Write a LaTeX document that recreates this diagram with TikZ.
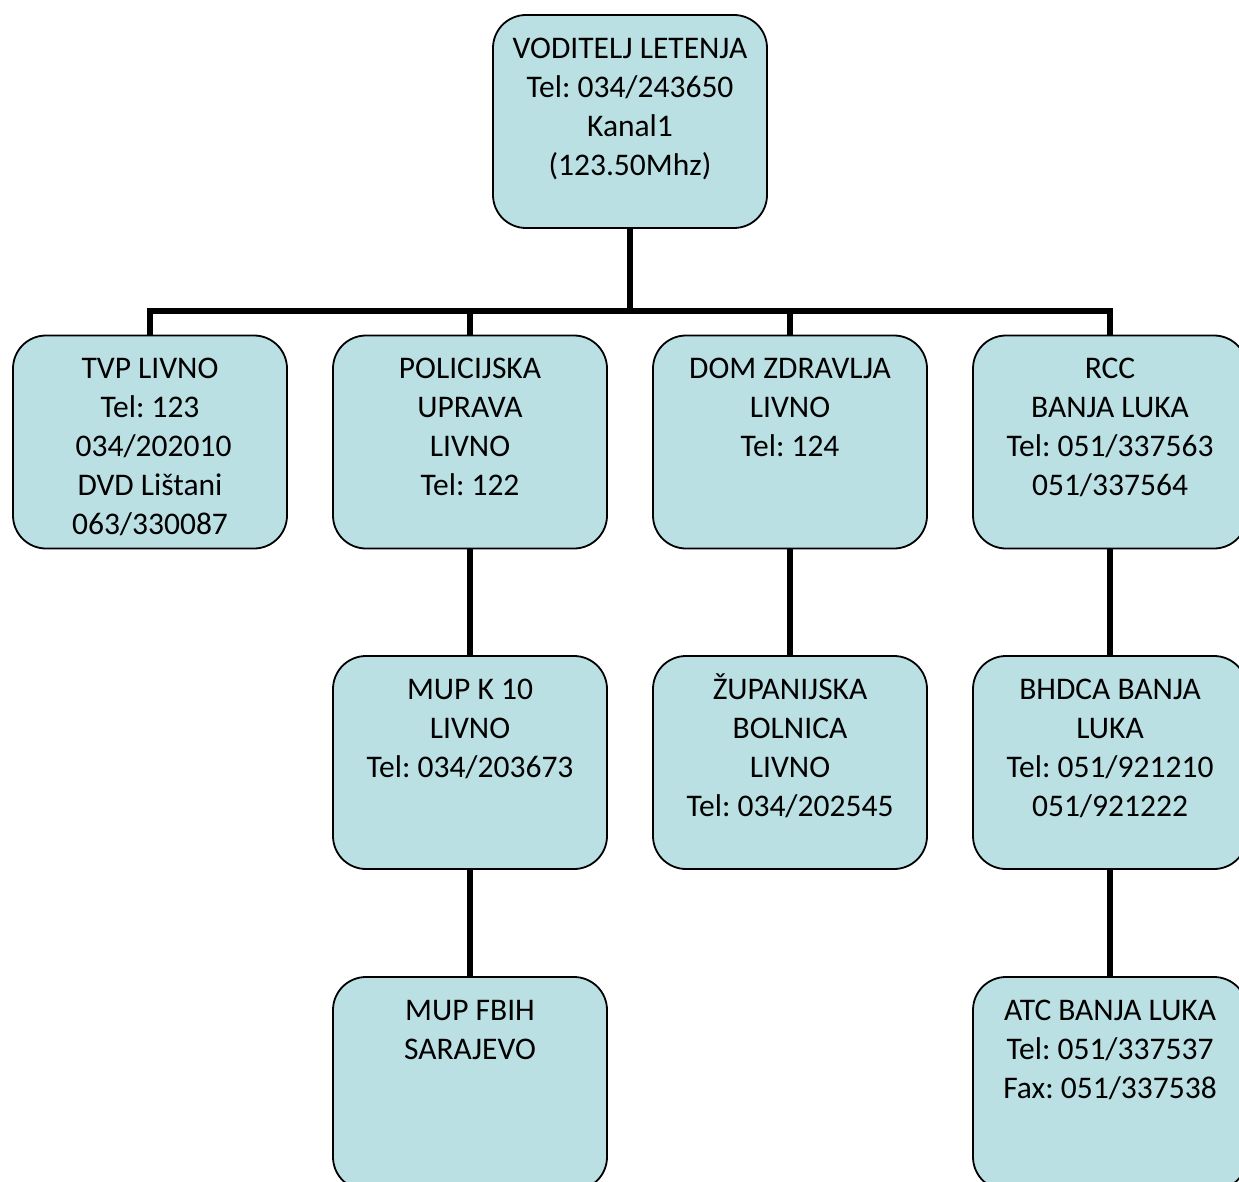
\documentclass[tikz,border=0pt]{standalone}
\usepackage{fontspec}
\setmainfont{Carlito}
\frenchspacing
\newcommand\orgfs{\fontsize{31.5}{39}\selectfont\frenchspacing}
\newcommand\fst{\rule{0pt}{28pt}}
\definecolor{boxfill}{RGB}{187,224,227}
\tikzset{
  orgbox/.style={draw=black, line width=1.8pt, fill=boxfill, rounded corners=33pt,
    minimum width=274pt, minimum height=213pt, inner sep=0pt},
  orgtext/.style={anchor=north, inner sep=0pt, align=center, font=\orgfs},
  link/.style={line width=5.5pt}
}
\begin{document}
\begin{tikzpicture}[x=1pt,y=-1pt]
\useasboundingbox (0,0) rectangle (1239,1182);
\clip (0,0) rectangle (1239,1182);
% boxes
\node[orgbox] (b0) at (630,121.5) {};
\node[orgbox] (b1) at (150,442) {};
\node[orgbox] (b2) at (470,442) {};
\node[orgbox] (b3) at (790,442) {};
\node[orgbox] (b4) at (1110,442) {};
\node[orgbox] (c2) at (470,762.5) {};
\node[orgbox] (c3) at (790,762.5) {};
\node[orgbox] (c4) at (1110,762.5) {};
\node[orgbox] (d2) at (470,1083.5) {};
\node[orgbox] (d4) at (1110,1083.5) {};
% connectors
\coordinate (bus) at (630,311);
\draw[link] (b0.south) -- (bus);
\draw[link] (b1.north) |- (bus) -| (b4.north);
\draw[link] (b2.north) -- (b2.north |- bus);
\draw[link] (b3.north) -- (b3.north |- bus);
\draw[link] (b2.south) -- (c2.north);
\draw[link] (b3.south) -- (c3.north);
\draw[link] (b4.south) -- (c4.north);
\draw[link] (c2.south) -- (d2.north);
\draw[link] (c4.south) -- (d4.north);
% texts
\node[orgtext] (t0) at ([yshift=-16pt]b0.north) {\fst VODITELJ LETENJA\\Tel: 034/243650\\Kanal1\\(123.50Mhz)};
\node[orgtext] (t1) at ([yshift=-16pt]b1.north) {\fst TVP LIVNO\\Tel: 123\\\ 034/202010\\DVD Lištani\\063/330087};
\node[orgtext] (t2) at ([yshift=-16pt]b2.north) {\fst POLICIJSKA\\UPRAVA\\LIVNO\\Tel: 122};
\node[orgtext] (t3) at ([yshift=-16pt]b3.north) {\fst DOM ZDRAVLJA\\LIVNO\\Tel: 124};
\node[orgtext] (t4) at ([yshift=-16pt]b4.north) {\fst RCC\\BANJA LUKA\\Tel: 051/337563\\051/337564};
\node[orgtext] (u2) at ([yshift=-16pt]c2.north) {\fst MUP K 10\\LIVNO\\Tel: 034/203673};
\node[orgtext] (u3) at ([yshift=-16pt]c3.north) {\fst ŽUPANIJSKA\\BOLNICA\\LIVNO\\Tel: 034/202545};
\node[orgtext] (u4) at ([yshift=-16pt]c4.north) {\fst BHDCA BANJA\\LUKA\\Tel: 051/921210\\051/921222};
\node[orgtext] (v2) at ([yshift=-16pt]d2.north) {\fst MUP FBIH\\SARAJEVO};
\node[orgtext] (v4) at ([yshift=-16pt]d4.north) {\fst ATC BANJA LUKA\\Tel: 051/337537\\Fax: 051/337538};
\end{tikzpicture}
\end{document}
